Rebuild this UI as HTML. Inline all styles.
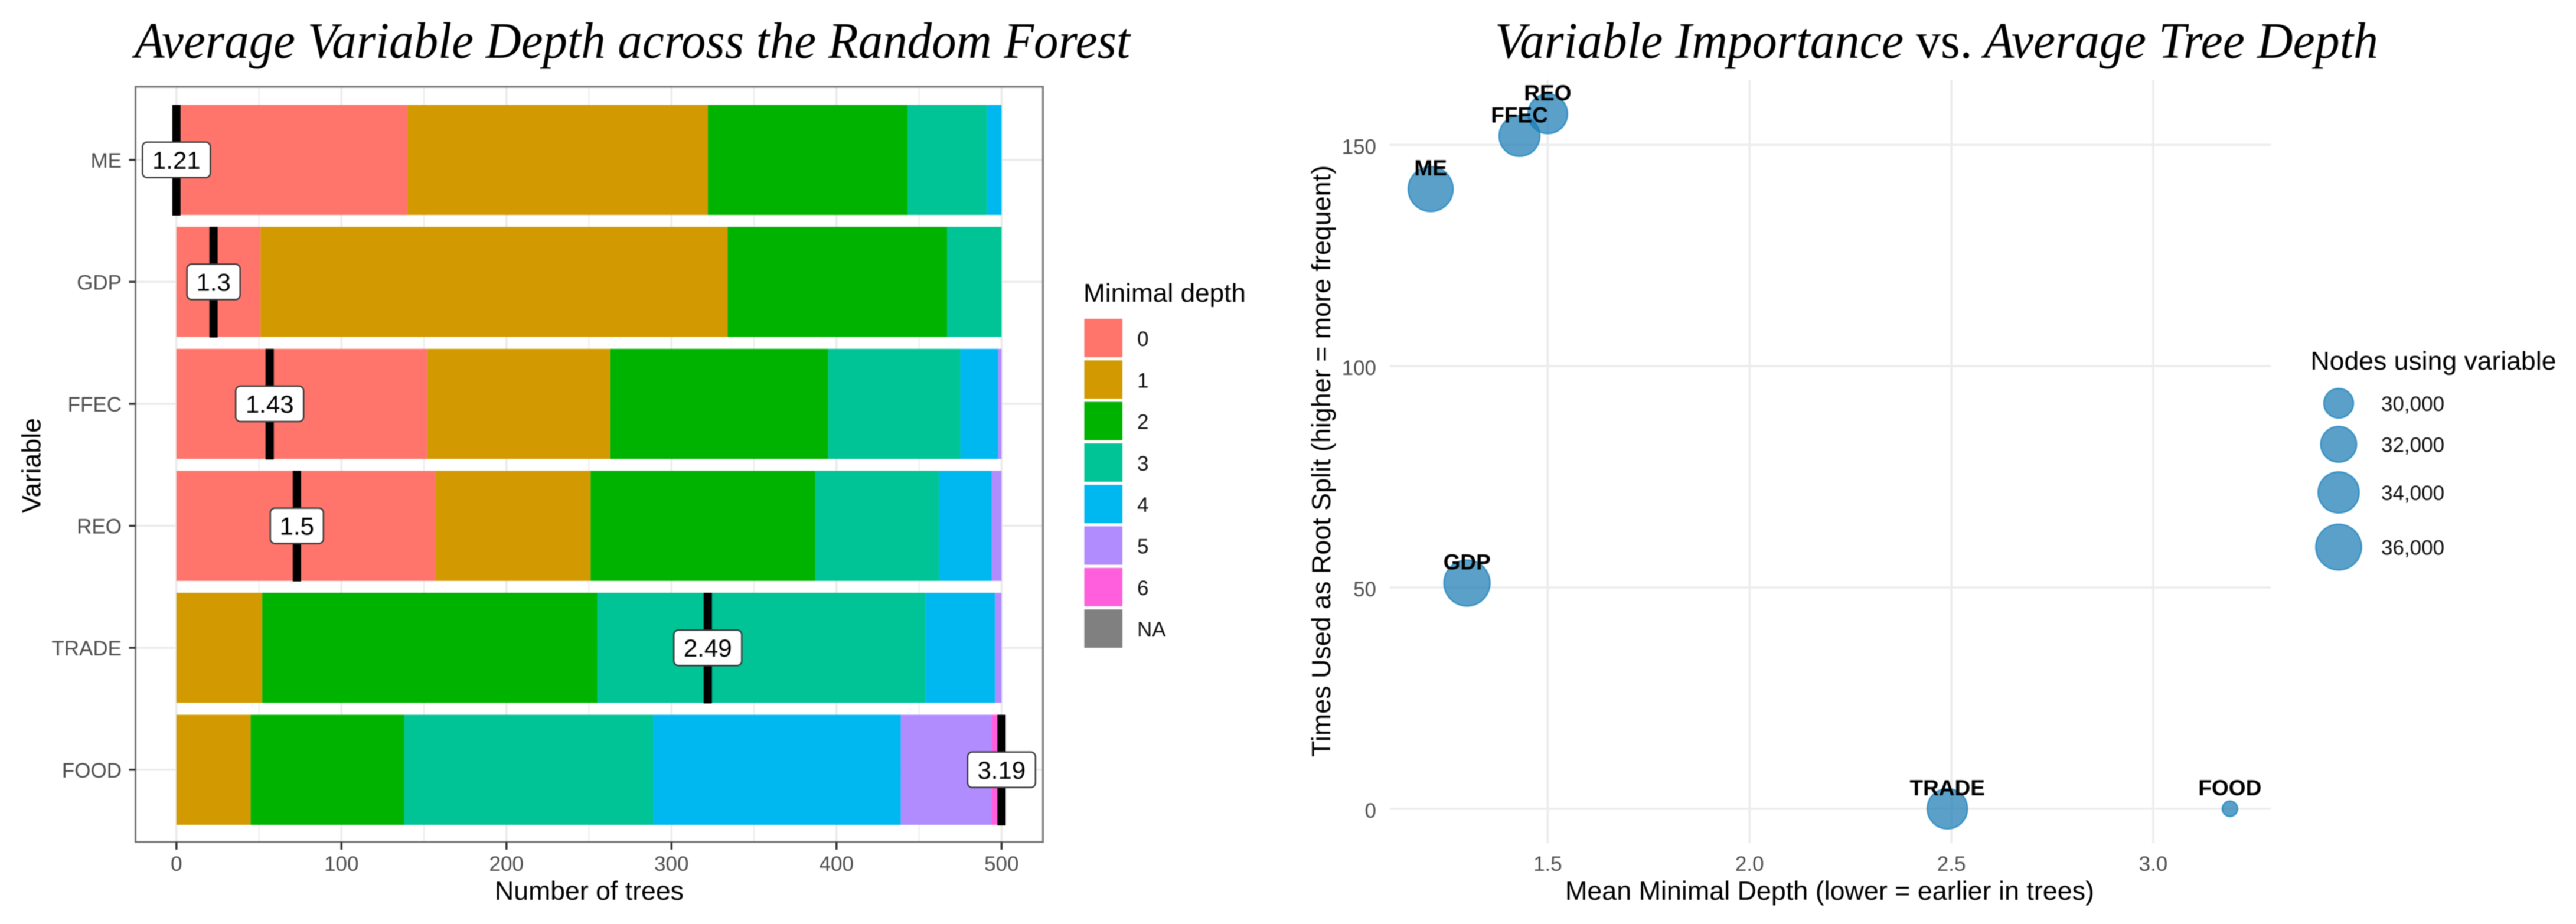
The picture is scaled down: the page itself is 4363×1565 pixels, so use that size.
<!DOCTYPE html>
<html lang="en">
<head>
<meta charset="utf-8">
<title>Random Forest Variable Depth and Importance</title>
<style>
  html, body { margin: 0; padding: 0; background: #fff; }
  body { width: 4363px; height: 1565px; overflow: hidden; }
  svg { display: block; filter: blur(0.7px); }
  text { font-family: "Liberation Sans", Arial, sans-serif; }
  .main-title { font-family: "Liberation Serif", serif; font-style: italic; font-size: 87px; fill: #000; }
  .axis-title { font-size: 44.5px; fill: #000; }
  .tick { font-size: 35px; fill: #4d4d4d; }
  .legend-title { font-size: 44px; fill: #000; }
  .legend-text { font-size: 35px; fill: #111; }
</style>
</head>
<body>
<svg id="figure" xmlns="http://www.w3.org/2000/svg" width="4363" height="1565" viewBox="0 0 4363 1565">
  <rect x="0" y="0" width="4363" height="1565" fill="#fff"/>

  <text class="main-title" x="228" y="98" textLength="1686" lengthAdjust="spacingAndGlyphs">Average Variable Depth across the Random Forest</text>
  <text class="main-title" x="2532" y="98" textLength="1496" lengthAdjust="spacingAndGlyphs">Variable Importance <tspan font-style="normal">vs.</tspan> Average Tree Depth</text>

  <g id="depth-chart"></g>
  <g id="importance-chart"></g>

  <text class="axis-title" x="998" y="1524" text-anchor="middle" textLength="320" lengthAdjust="spacingAndGlyphs">Number of trees</text>
  <text class="axis-title" transform="translate(68.5,788.5) rotate(-90)" text-anchor="middle" textLength="161" lengthAdjust="spacingAndGlyphs">Variable</text>
  <text class="legend-title" x="1835" y="511" textLength="275" lengthAdjust="spacingAndGlyphs">Minimal depth</text>

  <text class="axis-title" x="3099" y="1524" text-anchor="middle" textLength="896" lengthAdjust="spacingAndGlyphs">Mean Minimal Depth (lower = earlier in trees)</text>
  <text class="axis-title" transform="translate(2253,781) rotate(-90)" text-anchor="middle" textLength="1002" lengthAdjust="spacingAndGlyphs">Times Used as Root Split (higher = more frequent)</text>
  <text class="legend-title" x="3913.5" y="626" textLength="416" lengthAdjust="spacingAndGlyphs">Nodes using variable</text>
</svg>

<script>
// ---- Left chart data: trees per minimal depth level, per variable ----
const variables = ['ME', 'GDP', 'FFEC', 'REO', 'TRADE', 'FOOD'];
const depthLevels = ['0', '1', '2', '3', '4', '5', '6', 'NA'];
const treesAtDepth0 = [140, 51, 152, 157, 0, 0];
const treesAtDepth1 = [182, 283, 111, 94, 52, 45];
const treesAtDepth2 = [121, 133, 132, 136, 203, 93];
const treesAtDepth3 = [48, 33, 80, 75, 199, 151];
const treesAtDepth4 = [9, 0, 23, 32, 42, 150];
const treesAtDepth5 = [0, 0, 2, 6, 4, 55];
const treesAtDepth6 = [0, 0, 0, 0, 0, 6];
const meanDepthLabels = ['1.21', '1.3', '1.43', '1.5', '2.49', '3.19'];
const meanMarkTrees = [0, 22.5, 56.5, 73, 322, 500];
const treeTicks = [0, 100, 200, 300, 400, 500];
const treeMinorTicks = [50, 150, 250, 350, 450];

// ---- Right chart data ----
const pointVariables = ['ME', 'GDP', 'FFEC', 'REO', 'TRADE', 'FOOD'];
const meanMinimalDepth = [1.21, 1.3, 1.43, 1.5, 2.49, 3.19];
const timesRootSplit = [140, 51, 152, 157, 0, 0];
const nodesUsingVariable = [35630, 36160, 33880, 33400, 33650, 26870];
const depthTicks = ['1.5', '2.0', '2.5', '3.0'];
const rootTicks = [0, 50, 100, 150];
const sizeLegendValues = [30000, 32000, 34000, 36000];

const depthColors = ['#ff756c', '#d29a00', '#00b300', '#00c396', '#00b8f0', '#b08cff', '#ff5fdc', '#808080'];

const NS = 'http://www.w3.org/2000/svg';
function make(tag, parent, props, text) {
  const n = document.createElementNS(NS, tag);
  for (const k in props) n.setAttribute(k, props[k]);
  if (text !== undefined) n.textContent = text;
  parent.appendChild(n);
  return n;
}

// ---- Scales for left chart ----
const treeX = v => 298.8 + v * 2.795;
const variableY = i => 270.8 + i * 206.6;
const BAR_HALF = 93.2;
const PANEL = { left: 229.5, right: 1766.5, top: 147, bottom: 1426 };

const depth = document.getElementById('depth-chart');
const series = [treesAtDepth0, treesAtDepth1, treesAtDepth2, treesAtDepth3, treesAtDepth4, treesAtDepth5, treesAtDepth6];

treeMinorTicks.forEach(t => {
  const line = make('line', depth, { x1: treeX(t), x2: treeX(t), y1: PANEL.top, y2: PANEL.bottom, stroke: '#ececec', 'stroke-width': 2 });
  
  
});
treeTicks.forEach(t => {
  const line = make('line', depth, { x1: treeX(t), x2: treeX(t), y1: PANEL.top, y2: PANEL.bottom, stroke: '#ebebeb', 'stroke-width': 3.5 });
  
  
});
variables.forEach((v, i) => {
  const line = make('line', depth, { x1: PANEL.left, x2: PANEL.right, y1: variableY(i), y2: variableY(i), stroke: '#ebebeb', 'stroke-width': 3.5 });
  
  
});

// Stacked bars
variables.forEach((v, i) => {
  let cum = 0;
  series.forEach((s, d) => {
    const val = s[i];
    if (val > 0) {
      const seg = make('rect', depth, { x: treeX(cum), y: variableY(i) - BAR_HALF, width: treeX(cum + val) - treeX(cum), height: BAR_HALF * 2, fill: depthColors[d] });
      
      
    }
    cum += val;
  });
});

// Mean depth marks
variables.forEach((v, i) => {
  const mark = make('rect', depth, { x: treeX(meanMarkTrees[i]) - 7, y: variableY(i) - BAR_HALF, width: 14, height: BAR_HALF * 2 + 1, fill: '#000' });
  
  
});

// Panel border, ticks
const border = make('rect', depth, { x: PANEL.left, y: PANEL.top, width: PANEL.right - PANEL.left, height: PANEL.bottom - PANEL.top, fill: 'none', stroke: '#757575', 'stroke-width': 3 });



// Mean depth labels (drawn above the border as in the original)
variables.forEach((v, i) => {
  const label = meanDepthLabels[i];
  const w = label.length >= 4 ? 115 : 90;
  const cx = treeX(meanMarkTrees[i]);
  const box = make('rect', depth, { x: cx - w / 2, y: variableY(i) - 30, width: w, height: 60, rx: 8, ry: 8, fill: '#fff', stroke: '#3a3a3a', 'stroke-width': 2.5 });
  
  
  const txt = make('text', depth, { x: cx, y: variableY(i) + 15, 'text-anchor': 'middle', 'font-size': 42, fill: '#000' }, label);
  
  
});

treeTicks.forEach(t => {
  const tick = make('line', depth, { x1: treeX(t), x2: treeX(t), y1: PANEL.bottom, y2: PANEL.bottom + 13, stroke: '#333', 'stroke-width': 3.5 });
  
  
  const lab = make('text', depth, { x: treeX(t), y: 1475, 'text-anchor': 'middle', class: 'tick' }, String(t));
  
  
});
variables.forEach((v, i) => {
  const tick = make('line', depth, { x1: PANEL.left - 11, x2: PANEL.left, y1: variableY(i), y2: variableY(i), stroke: '#333', 'stroke-width': 3.5 });
  
  
  const lab = make('text', depth, { x: 206, y: variableY(i) + 13, 'text-anchor': 'end', class: 'tick' }, v);
  
  
});

// Depth legend
depthLevels.forEach((lvl, i) => {
  const keyY = 540 + i * 70.3;
  const key = make('rect', depth, { x: 1836.5, y: keyY, width: 64.5, height: 65, fill: depthColors[i] });
  
  
  const lab = make('text', depth, { x: 1926, y: keyY + 46, class: 'legend-text' }, lvl);
  
  
});

// ---- Scales for right chart ----
const depthX = v => 2621.4 + (v - 1.5) * 683.7;
const rootY = v => 1369.8 - v * 7.497;
const nodeR = n => Math.sqrt(Math.max(0, 625 + (n - 30000) * 0.1455));

const imp = document.getElementById('importance-chart');
const IMP = { left: 2354, right: 3846, top: 135, bottom: 1428 };

depthTicks.forEach(t => {
  const v = parseFloat(t);
  const line = make('line', imp, { x1: depthX(v), x2: depthX(v), y1: IMP.top, y2: IMP.bottom, stroke: '#ececec', 'stroke-width': 3.5 });
  
  
  const lab = make('text', imp, { x: depthX(v), y: 1475, 'text-anchor': 'middle', class: 'tick' }, t);
  
  
});
rootTicks.forEach(t => {
  const line = make('line', imp, { x1: IMP.left, x2: IMP.right, y1: rootY(t), y2: rootY(t), stroke: '#ececec', 'stroke-width': 3.5 });
  
  
  const lab = make('text', imp, { x: 2331, y: rootY(t) + 15, 'text-anchor': 'end', class: 'tick' }, String(t));
  
  
});

pointVariables.forEach((v, i) => {
  const dot = make('circle', imp, { cx: depthX(meanMinimalDepth[i]), cy: rootY(timesRootSplit[i]), r: nodeR(nodesUsingVariable[i]), fill: '#1a7bb4', 'fill-opacity': 0.72, stroke: '#1a82bd', 'stroke-opacity': 0.75, 'stroke-width': 2.5 });
  
  
});
pointVariables.forEach((v, i) => {
  const lab = make('text', imp, { x: depthX(meanMinimalDepth[i]), y: rootY(timesRootSplit[i]) - 23, 'text-anchor': 'middle', 'font-size': 37, 'font-weight': 'bold', fill: '#000' }, v);
  
  
});

// Size legend (key centres are fixed layout slots, one per legend value)
sizeLegendValues.forEach((n, i) => {
  const centre = 683 + [0, 69.5, 151, 243.6][i];
  const dot = make('circle', imp, { cx: 3961, cy: centre, r: nodeR(n), fill: '#1a7bb4', 'fill-opacity': 0.72, stroke: '#1a82bd', 'stroke-opacity': 0.75, 'stroke-width': 2.5 });
  
  
  const lab = make('text', imp, { x: 4033, y: centre + 13, class: 'legend-text' }, n.toLocaleString('en-US'));
  
  
});
</script>
</body>
</html>
